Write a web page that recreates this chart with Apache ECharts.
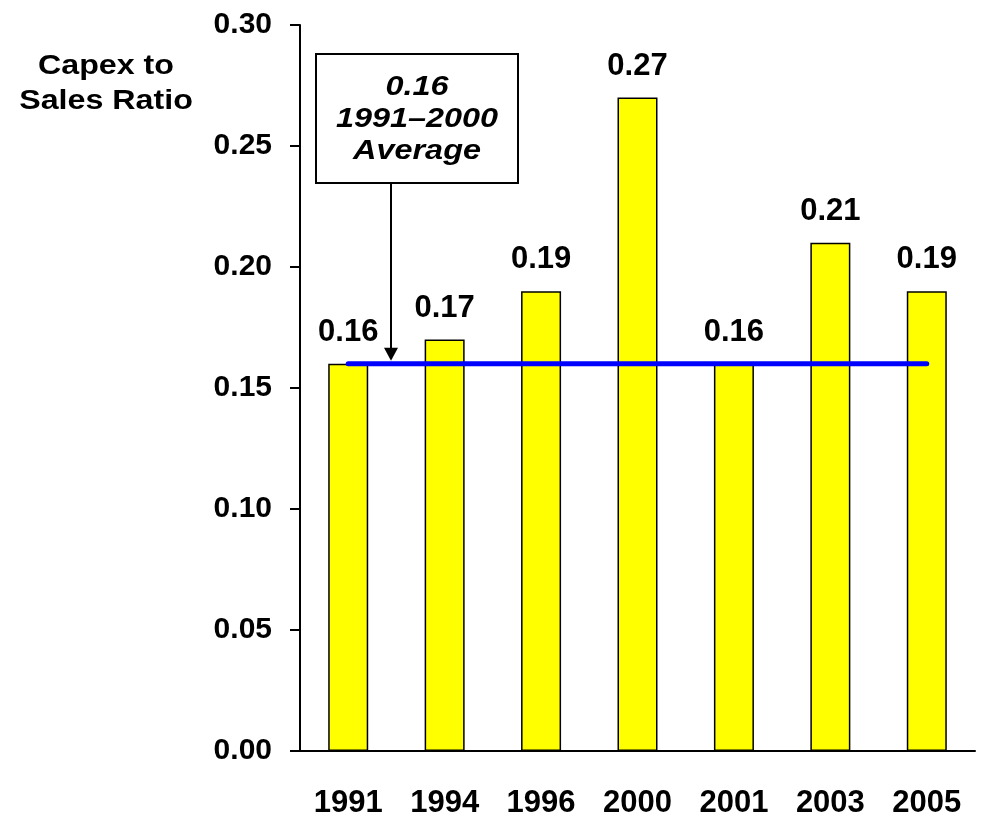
<!DOCTYPE html>
<html>
<head>
<meta charset="utf-8">
<script src="https://cdn.jsdelivr.net/npm/echarts@6/dist/echarts.min.js"></script>
<style>
  html, body { margin: 0; padding: 0; background: #fff; }
  #chart { width: 981px; height: 815px; }
</style>
</head>
<body>
<div id="chart"></div>
<script>
// Capex-to-sales ratio by year, with the 1991–2000 average
const years = ['1991', '1994', '1996', '2000', '2001', '2003', '2005'];
const ratios = [0.16, 0.17, 0.19, 0.27, 0.16, 0.21, 0.19];
const averageRatio = 0.16;
const averageLabel = ['0.16', '1991\u20132000', 'Average'];
const yTitle = ['Capex to', 'Sales Ratio'];

const FONT = '"Liberation Sans", Arial, sans-serif';

const chart = echarts.init(document.getElementById('chart'), null, { renderer: 'canvas' });

const option = {
  backgroundColor: '#ffffff',
  animation: false,
  grid: { left: 300, right: 6, top: 25, bottom: 64, containLabel: false, outerBoundsMode: 'none' },
  xAxis: {
    type: 'category',
    data: years,
    axisLine: { lineStyle: { color: '#000', width: 2 } },
    axisTick: { show: false },
    axisLabel: {
      margin: 37, fontFamily: FONT, fontWeight: 'bold', fontSize: 31, color: '#000'
    }
  },
  yAxis: {
    type: 'value',
    min: 0, max: 0.3, interval: 0.05,
    splitLine: { show: false },
    axisLine: { show: true, lineStyle: { color: '#000', width: 2 } },
    axisTick: { show: true, length: 10, lineStyle: { color: '#000', width: 2 } },
    axisLabel: {
      margin: 28, fontFamily: FONT, fontWeight: 'bold', fontSize: 30, color: '#000',
      formatter: v => v.toFixed(2)
    }
  },
  series: [
    {
      type: 'bar',
      data: ratios,
      barWidth: 40,
      itemStyle: { color: '#ffff00', borderColor: '#000', borderWidth: 1.5 },
      label: {
        show: true, position: 'top', distance: 16,
        fontFamily: FONT, fontWeight: 'bold', fontSize: 31, color: '#000',
        formatter: p => p.value.toFixed(2)
      },
      z: 2
    },
    {
      type: 'line',
      data: years.map(() => averageRatio),
      symbol: 'none',
      lineStyle: { color: '#0000ff', width: 5, cap: 'round' },
      z: 3
    }
  ]
};

chart.setOption(option);

// Callout box and arrow pointing down at the average line
const tip = chart.convertToPixel({ xAxisIndex: 0, yAxisIndex: 0 }, [0, averageRatio]);
const arrowX = 391;
const tipY = tip[1] - 3;
const boxLeft = 316, boxTop = 54, boxW = 202, boxH = 129;

chart.setOption({
  graphic: [
    {
      type: 'text',
      x: 106, y: 84,
      scaleX: 1.15,
      style: {
        text: yTitle.join('\n'),
        fontFamily: FONT, fontWeight: 'bold', fontSize: 28,
        lineHeight: 35, fill: '#000', align: 'center', verticalAlign: 'middle'
      }
    },
    {
      type: 'rect',
      shape: { x: boxLeft, y: boxTop, width: boxW, height: boxH },
      style: { fill: '#fff', stroke: '#000', lineWidth: 2 },
      z: 10
    },
    {
      type: 'text',
      x: boxLeft + boxW / 2, y: boxTop + boxH / 2 + 1,
      scaleX: 1.2,
      style: {
        text: averageLabel.join('\n'),
        fontFamily: FONT, fontWeight: 'bold', fontStyle: 'italic', fontSize: 27,
        lineHeight: 32, fill: '#000', align: 'center', verticalAlign: 'middle'
      },
      z: 11
    },
    {
      type: 'line',
      shape: { x1: arrowX, y1: boxTop + boxH, x2: arrowX, y2: tipY - 12 },
      style: { stroke: '#000', lineWidth: 2 },
      z: 10
    },
    {
      type: 'polygon',
      shape: { points: [[arrowX - 7, tipY - 13], [arrowX + 7, tipY - 13], [arrowX, tipY]] },
      style: { fill: '#000' },
      z: 10
    }
  ]
});
</script>
</body>
</html>
